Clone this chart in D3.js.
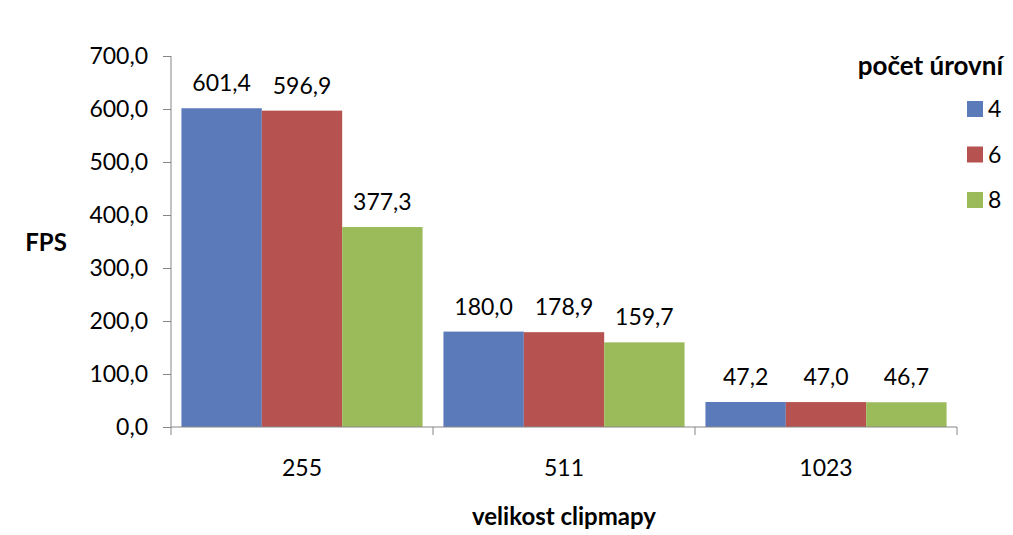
<!DOCTYPE html>
<html>
<head>
<meta charset="utf-8">
<script src="https://cdn.jsdelivr.net/npm/d3@7/dist/d3.min.js"></script>
<style>
  html, body { margin: 0; padding: 0; background: #fff; }
  svg { display: block; font-family: Lato, "Open Sans", sans-serif; }
</style>
</head>
<body>
<svg id="chart" width="1013" height="535"></svg>
<script>
// Frame rate by clipmap size, grouped by number of levels
const categories = ["255", "511", "1023"];
const seriesNames = ["4", "6", "8"];
const fps4 = [601.4, 180.0, 47.2];
const fps6 = [596.9, 178.9, 47.0];
const fps8 = [377.3, 159.7, 46.7];
const yTicks = [0, 100, 200, 300, 400, 500, 600, 700];
const colors = ["#5b7aba", "#b65250", "#9bbb5a"];

const seriesValues = [fps4, fps6, fps8];

const svg = d3.select("#chart");
const fmt = v => d3.format(".1f")(v).replace(".", ",");
const fontSize = 23;
const titleSize = 24;

const y = d3.scaleLinear().domain([0, 700]).range([427, 56]);
const x = d3.scaleBand().domain(categories).range([171, 957]).padding(0);
const xs = d3.scaleBand().domain(seriesNames).range([0, x.bandwidth()])
  .paddingInner(0).paddingOuter(0.13);

const axisColor = "#868686";

// Y axis
const yAxis = svg.append("g")
  .attr("transform", "translate(171,0)")
  .call(d3.axisLeft(y).tickValues(yTicks).tickFormat(fmt).tickSizeOuter(0).tickSize(8).tickPadding(15));
yAxis.select(".domain").attr("stroke", axisColor).attr("d", `M0,${y(700)}V${y(0)}`);
yAxis.selectAll(".tick line").attr("stroke", axisColor);
yAxis.selectAll(".tick text").attr("font-size", fontSize).attr("fill", "#000").attr("font-family", "Lato");

// Bars
const groups = svg.append("g").selectAll("g")
  .data(categories)
  .join("g")
  .attr("transform", d => `translate(${x(d)},0)`);

groups.selectAll("rect")
  .data((d, i) => seriesNames.map((s, j) => ({ s, v: seriesValues[j][i], c: colors[j] })))
  .join("rect")
  .attr("x", d => xs(d.s))
  .attr("y", d => y(d.v))
  .attr("width", xs.bandwidth())
  .attr("height", d => y(0) - y(d.v))
  .attr("fill", d => d.c);

groups.selectAll("text")
  .data((d, i) => seriesNames.map((s, j) => ({ s, v: seriesValues[j][i] })))
  .join("text")
  .attr("x", d => xs(d.s) + xs.bandwidth() / 2)
  .attr("y", d => y(d.v) - 17)
  .attr("text-anchor", "middle")
  .attr("font-size", fontSize)
  .attr("fill", "#000")
  .text(d => fmt(d.v));

// X axis with boundary ticks between categories
const xAxis = svg.append("g").attr("transform", `translate(0,${y(0)})`);
xAxis.append("line")
  .attr("x1", 171).attr("x2", 957)
  .attr("stroke", axisColor);
const bounds = categories.map(c => x(c)).concat([x(categories[categories.length - 1]) + x.bandwidth()]);
xAxis.selectAll("line.b")
  .data(bounds)
  .join("line")
  .attr("class", "b")
  .attr("x1", d => d).attr("x2", d => d)
  .attr("y1", 0).attr("y2", 8)
  .attr("stroke", axisColor);
xAxis.selectAll("text")
  .data(categories)
  .join("text")
  .attr("x", d => x(d) + x.bandwidth() / 2)
  .attr("y", 49)
  .attr("text-anchor", "middle")
  .attr("font-size", fontSize)
  .attr("fill", "#000")
  .text(d => d);

// Axis titles
svg.append("text")
  .attr("x", 46).attr("y", 251)
  .attr("text-anchor", "middle")
  .attr("font-size", titleSize).attr("font-weight", "bold")
  .text("FPS");
svg.append("text")
  .attr("x", 564).attr("y", 525)
  .attr("text-anchor", "middle")
  .attr("font-size", titleSize).attr("font-weight", "bold")
  .text("velikost clipmapy");

// Legend
const legend = svg.append("g");
legend.append("text")
  .attr("x", 1003).attr("y", 75)
  .attr("text-anchor", "end")
  .attr("font-size", 26).attr("font-weight", "bold")
  .text("počet úrovní");
const items = legend.selectAll("g.item")
  .data(seriesNames)
  .join("g")
  .attr("class", "item")
  .attr("transform", (d, i) => `translate(967,${109 + i * 45.5})`);
items.append("rect")
  .attr("x", 0).attr("y", -8)
  .attr("width", 16).attr("height", 16)
  .attr("fill", (d, i) => colors[i]);
items.append("text")
  .attr("x", 21).attr("y", 8)
  .attr("font-size", fontSize)
  .text(d => d);
</script>
</body>
</html>
